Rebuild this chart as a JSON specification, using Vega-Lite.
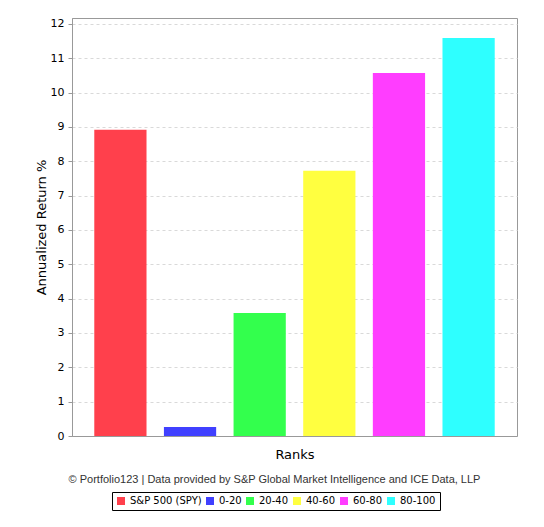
{
  "$schema": "https://vega.github.io/schema/vega-lite/v6.json",
  "width": 445,
  "height": 418,
  "autosize": {"type": "none"},
  "padding": {"left": 72, "top": 18, "right": 27, "bottom": 91},
  "background": "white",
  "title": {
    "text": "© Portfolio123 | Data provided by S&P Global Market Intelligence and ICE Data, LLP",
    "orient": "bottom",
    "anchor": "middle",
    "dx": -20,
    "offset": -37,
    "font": "Liberation Sans",
    "fontSize": 11,
    "fontWeight": "normal",
    "color": "#333333"
  },
  "data": {
    "values": [
      {"rank": "S&P 500 (SPY)", "ret": 8.92},
      {"rank": "0-20", "ret": 0.26},
      {"rank": "20-40", "ret": 3.58},
      {"rank": "40-60", "ret": 7.72},
      {"rank": "60-80", "ret": 10.57},
      {"rank": "80-100", "ret": 11.59}
    ]
  },
  "mark": {"type": "bar"},
  "encoding": {
    "x": {
      "field": "rank",
      "type": "nominal",
      "sort": null,
      "title": "Ranks",
      "scale": {"paddingInner": 0.25, "paddingOuter": 0.32},
      "axis": {
        "labels": false,
        "ticks": false,
        "domainColor": "#999999",
        "titleFont": "DejaVu Sans",
        "titleFontSize": 13,
        "titleFontWeight": "normal",
        "titleColor": "#000000",
        "titlePadding": 12
      }
    },
    "y": {
      "field": "ret",
      "type": "quantitative",
      "title": "Annualized Return %",
      "scale": {"domain": [0, 12.17], "nice": false},
      "axis": {
        "values": [0, 1, 2, 3, 4, 5, 6, 7, 8, 9, 10, 11, 12],
        "domainColor": "#999999",
        "tickColor": "#999999",
        "tickSize": 4,
        "labelFont": "DejaVu Sans",
        "labelFontSize": 11,
        "labelColor": "#000000",
        "labelPadding": 4,
        "gridColor": "#d9d9d9",
        "gridDash": [3, 3],
        "titleFont": "DejaVu Sans",
        "titleFontSize": 13,
        "titleFontWeight": "normal",
        "titleColor": "#000000",
        "titlePadding": 2
      }
    },
    "color": {
      "field": "rank",
      "type": "nominal",
      "sort": null,
      "title": null,
      "scale": {
        "domain": ["S&P 500 (SPY)", "0-20", "20-40", "40-60", "60-80", "80-100"],
        "range": ["#FF404C", "#4040FF", "#33FF4D", "#FFFF40", "#FF3DFF", "#2EFFFF"]
      },
      "legend": {
        "orient": "none",
        "legendX": 40,
        "legendY": 474,
        "direction": "horizontal",
        "strokeColor": "#000000",
        "padding": 4,
        "symbolType": "square",
        "symbolSize": 64,
        "symbolOpacity": 1,
        "symbolStrokeWidth": 0,
        "labelFont": "DejaVu Sans",
        "labelFontSize": 10,
        "labelOffset": 4,
        "labelColor": "#000000",
        "columnPadding": 3
      }
    }
  },
  "config": {
    "view": {"stroke": "#999999"}
  }
}
